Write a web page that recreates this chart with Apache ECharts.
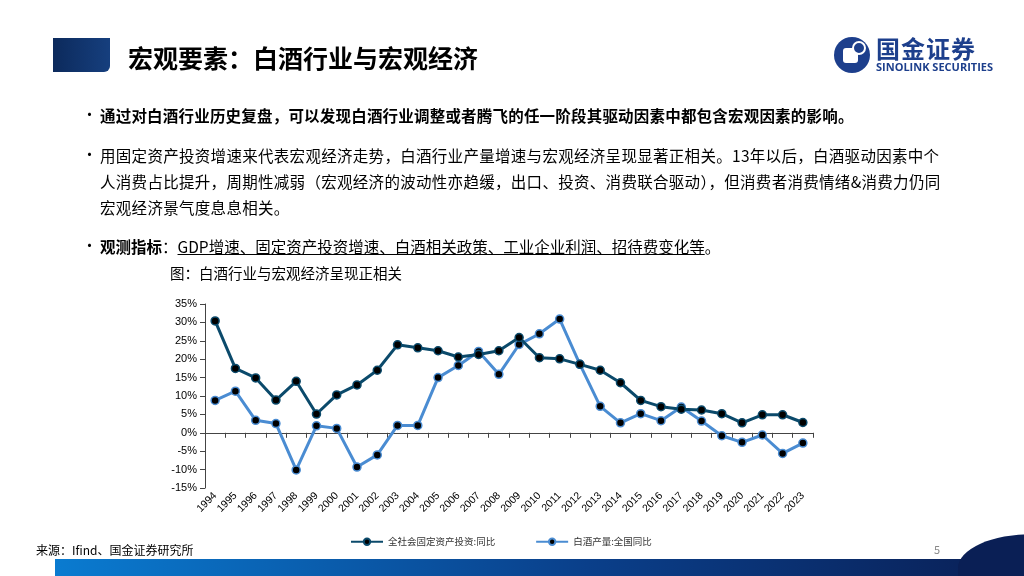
<!DOCTYPE html>
<html><head><meta charset="utf-8">
<script src="https://cdn.jsdelivr.net/npm/echarts@6/dist/echarts.min.js"></script>
<style>
html,body{margin:0;padding:0;background:#fff;}
#page{position:relative;width:1024px;height:576px;overflow:hidden;font-family:"Noto Sans CJK SC","Noto Sans",sans-serif;color:#000;}
#chart{position:absolute;left:0;top:0;width:1024px;height:576px;}
.abs{position:absolute;white-space:nowrap;}
.bul{position:absolute;left:82px;font-size:15px;}
.p{position:absolute;left:100px;font-size:15.5px;line-height:26px;white-space:nowrap;}
</style></head>
<body><div id="page">
<div id="chart"></div>
<div class="abs" style="left:53px;top:38px;width:57px;height:34px;background:linear-gradient(90deg,#0c2a5c,#163f7e);border-bottom-right-radius:6px;"></div>
<div class="abs" style="left:128px;top:39px;font-size:25px;font-weight:bold;line-height:36px;">宏观要素：白酒行业与宏观经济</div>
<svg class="abs" style="left:833px;top:36px" width="40" height="38" viewBox="0 0 40 38">
<circle cx="19" cy="19" r="18" fill="#1d3f8c"/>
<rect x="10" y="12" width="15" height="15" rx="3" fill="#fff"/>
<circle cx="26" cy="12" r="6" fill="#1d3f8c" stroke="#fff" stroke-width="2"/>
</svg>
<div class="abs" style="left:876px;top:33px;font-size:24px;font-weight:bold;color:#1d3f8c;letter-spacing:1px;line-height:30px;">国金证券</div>
<div class="abs" style="left:876px;top:60px;font-size:11px;font-weight:bold;color:#1d3f8c;font-family:'Open Sans','DejaVu Sans',sans-serif;line-height:14px;">SINOLINK SECURITIES</div>

<div class="bul" style="top:103px;">•</div>
<div class="p" style="top:102px;font-weight:bold;letter-spacing:0.2px;">通过对白酒行业历史复盘，可以发现白酒行业调整或者腾飞的任一阶段其驱动因素中都包含宏观因素的影响。</div>
<div class="bul" style="top:143px;">•</div>
<div class="p" style="top:142px;letter-spacing:0.3px;">用固定资产投资增速来代表宏观经济走势，白酒行业产量增速与宏观经济呈现显著正相关。13年以后，白酒驱动因素中个<br>人消费占比提升，周期性减弱（宏观经济的波动性亦趋缓，出口、投资、消费联合驱动），但消费者消费情绪&amp;消费力仍同<br>宏观经济景气度息息相关。</div>
<div class="bul" style="top:234px;">•</div>
<div class="p" style="top:233px;"><b>观测指标</b>：<span style="text-decoration:underline;">GDP增速、固定资产投资增速、白酒相关政策、工业企业利润、招待费变化等</span>。</div>
<div class="abs" style="left:170px;top:262px;font-size:14.5px;line-height:22px;">图：白酒行业与宏观经济呈现正相关</div>
<div class="abs" style="left:36px;top:541px;font-size:12px;line-height:18px;">来源：Ifind、国金证券研究所</div>
<div class="abs" style="left:55px;top:559px;width:969px;height:17px;background:linear-gradient(90deg,#0a7bd0,#0a3f8a 55%,#0a1f55);"></div>
<div class="abs" style="left:958px;top:534px;width:80px;height:42px;background:#0a1f55;border-top-left-radius:75px 34px;"></div>
<div class="abs" style="left:934px;top:541px;font-size:11px;color:#888;line-height:16px;">5</div>
</div>
<script>
var years = ['1994','1995','1996','1997','1998','1999','2000','2001','2002','2003','2004','2005','2006','2007','2008','2009','2010','2011','2012','2013','2014','2015','2016','2017','2018','2019','2020','2021','2022','2023'];
var faiYoY = [30.4,17.5,14.9,8.9,14.0,5.1,10.3,13.0,17.0,23.9,23.1,22.3,20.6,21.3,22.3,25.9,20.4,20.1,18.6,17.0,13.6,8.8,7.1,6.4,6.2,5.2,2.7,4.9,4.9,2.8];
var baijiuYoY = [8.8,11.3,3.4,2.5,-10.1,1.9,1.2,-9.3,-6.0,2.0,2.0,15.0,18.3,22.1,15.9,24.0,26.9,30.9,18.6,7.2,2.7,5.2,3.3,7.0,3.2,-0.8,-2.6,-0.6,-5.6,-2.8];
var seriesNames = ['全社会固定资产投资:同比','白酒产量:全国同比'];
var yTicks = {min:-15, max:35, interval:5};

var darkC = '#0b4a6b', lightC = '#4a8cd2';
var chart = echarts.init(document.getElementById('chart'));
chart.setOption({
  animation:false,
  grid:{left:205, right:211, top:304, bottom:88},
  legend:{
    left:345, top:532, itemWidth:32, itemHeight:8, itemGap:40,
    textStyle:{fontSize:9.5, color:'#333', fontFamily:'Noto Sans CJK SC'},
    data:seriesNames
  },
  xAxis:[{
    type:'category', data:years, boundaryGap:true, position:'bottom',
    axisLine:{show:false, onZero:false}, axisTick:{show:false},
    axisLabel:{rotate:45, fontSize:10.5, color:'#000', margin:6, interval:0, fontFamily:'Liberation Sans'}
  },{
    type:'category', data:years, boundaryGap:true, position:'top',
    axisLine:{show:true, onZero:true, lineStyle:{color:'#444', width:1}},
    axisTick:{show:true, inside:true, length:5, interval:0, lineStyle:{color:'#444'}},
    axisLabel:{show:false}
  }],
  yAxis:{
    type:'value', min:yTicks.min, max:yTicks.max, interval:yTicks.interval,
    axisLine:{show:true, lineStyle:{color:'#444'}},
    axisTick:{show:true, length:5, lineStyle:{color:'#444'}},
    splitLine:{show:false},
    axisLabel:{formatter:'{value}%', fontSize:11, color:'#000', margin:8, fontFamily:'Liberation Sans'}
  },
  series:[{
    name:seriesNames[0], type:'line', data:faiYoY, xAxisIndex:0,
    symbol:'circle', symbolSize:8, showAllSymbol:true,
    lineStyle:{color:darkC, width:3},
    itemStyle:{color:'#000', borderColor:darkC, borderWidth:1.5},
    z:3
  },{
    name:seriesNames[1], type:'line', data:baijiuYoY, xAxisIndex:0,
    symbol:'circle', symbolSize:8, showAllSymbol:true,
    lineStyle:{color:lightC, width:3},
    itemStyle:{color:'#000', borderColor:lightC, borderWidth:1.5},
    z:2
  }]
});
</script>
</body></html>
